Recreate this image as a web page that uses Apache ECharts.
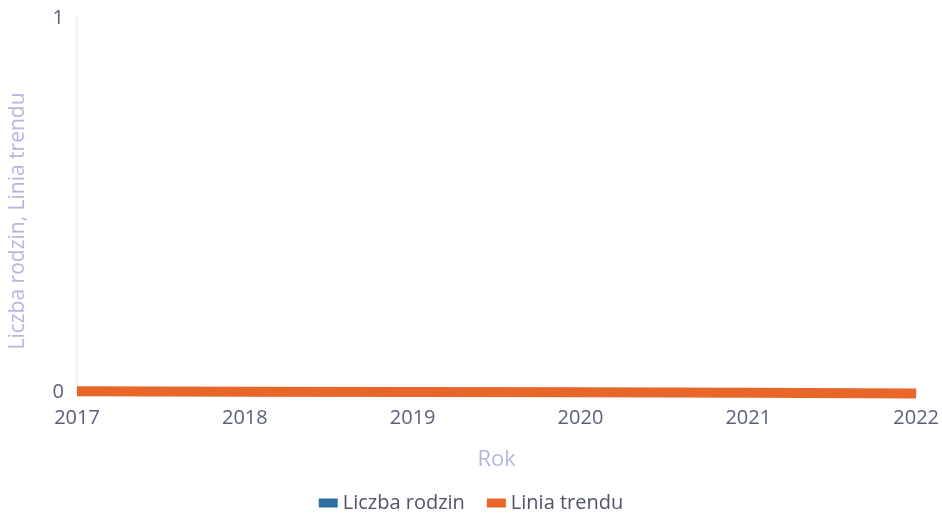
<!DOCTYPE html>
<html>
<head>
<meta charset="utf-8">
<script src="https://cdn.jsdelivr.net/npm/echarts@6/dist/echarts.min.js"></script>
<style>
  html, body { margin: 0; padding: 0; background: #fff; }
  #main { width: 942px; height: 518px; }
</style>
</head>
<body>
<div id="main"></div>
<script>
// dane wykresu
var years = ['2017', '2018', '2019', '2020', '2021', '2022'];
var liczbaRodzin = [0, 0, 0, 0, 0, 0];
var liniaTrendu = [0.002, 0.001, 0.0, -0.001, -0.002, -0.004];

var chartDom = document.getElementById('main');
var myChart = echarts.init(chartDom);
var option;

option = {
  textStyle: { fontFamily: 'Open Sans' },
  animation: false,
  grid: {
    left: 73,
    right: 24,
    top: 18,
    bottom: 126
  },
  legend: {
    bottom: 0,
    left: 'center',
    icon: 'rect',
    itemWidth: 19,
    itemHeight: 9,
    itemGap: 22,
    textStyle: { fontSize: 20, color: '#4f5468' },
    data: ['Liczba rodzin', 'Linia trendu']
  },
  xAxis: {
    type: 'category',
    boundaryGap: false,
    data: years,
    name: 'Rok',
    nameLocation: 'middle',
    nameGap: 57,
    nameTextStyle: { fontSize: 22, color: '#b3b8e0' },
    axisLine: { show: false },
    axisTick: { show: false },
    axisLabel: { fontSize: 20, color: '#5a6079', margin: 16 },
    splitLine: { show: false }
  },
  yAxis: {
    type: 'value',
    min: 0,
    max: 1,
    interval: 1,
    name: 'Liczba rodzin, Linia trendu',
    nameLocation: 'middle',
    nameGap: 48,
    nameTextStyle: { fontSize: 21, color: '#b3b8e0', padding: [0, 32, 0, 0] },
    axisLine: { show: true, lineStyle: { color: '#f2f2f4', width: 2 } },
    axisTick: { show: false },
    axisLabel: { fontSize: 20, color: '#5a6079', margin: 13 },
    splitLine: { show: false }
  },
  series: [
    {
      name: 'Liczba rodzin',
      type: 'line',
      data: liczbaRodzin,
      symbol: 'none',
      clip: false,
      color: '#2e6fa3',
      lineStyle: { width: 4 }
    },
    {
      name: 'Linia trendu',
      type: 'line',
      data: liniaTrendu,
      symbol: 'none',
      clip: false,
      color: '#e8662a',
      lineStyle: { width: 10 }
    }
  ]
};

option && myChart.setOption(option);
</script>
</body>
</html>
